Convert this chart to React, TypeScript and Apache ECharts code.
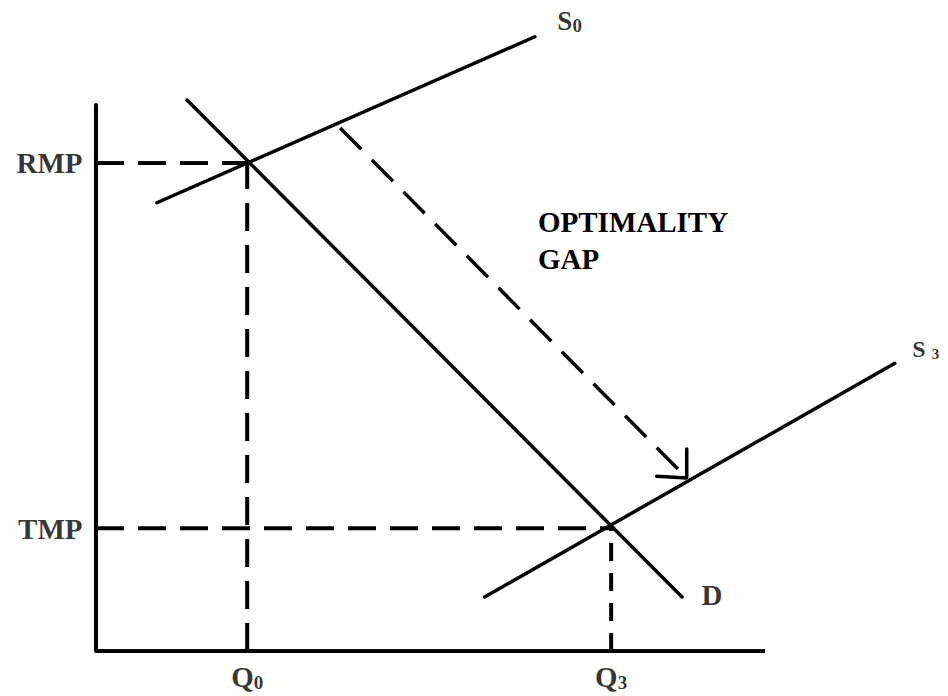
import React, { useEffect, useRef } from "react";
import * as echarts from "echarts";

// Values, in axis units (x: 0-100 quantity, y: 0-100 price)
const RMP = 89.4;
const TMP = 22.5;
const Q0 = 22.6;
const Q3 = 77.0;
const supplyS0: number[][] = [[9.1, 82.1], [65.6, 112.5]];
const demandD: number[][] = [[13.6, 100.9], [87.6, 9.9]];
const supplyS3: number[][] = [[58.1, 9.9], [119.4, 52.7]];
const gapArrow: number[][] = [[36.5, 95.8], [88.3, 31.7]];
const arrowHead: number[][] = [[83.8, 32.0], [88.3, 31.7], [88.3, 37.0]];
const quantityAxis: number[][] = [[0, 0], [100, 0]];
const priceLabels = ["RMP", "TMP"];
const quantityLabels = ["0", "3"];
const annotation = "OPTIMALITY\nGAP";

const FONT = "'Liberation Serif', 'Times New Roman', serif";

export default function App() {
  const ref = useRef<HTMLDivElement>(null);
  useEffect(() => {
    if (!ref.current) return;
    const chart = echarts.init(ref.current, undefined, { renderer: "svg" });
    const solid = (w: number) => ({ color: "#000", width: w, type: "solid" as const, cap: "round" as const });
    const dashed = (w: number, d: number[]) => ({ color: "#000", width: w, type: d, cap: "butt" as const });
    const lineBase = {
      type: "line",
      symbol: "none",
      clip: false,
      silent: true,
      z: 3,
    };
    const bigText = { fontFamily: FONT, fontWeight: "bold" as const, color: "#000" };
    const rich = {
      m: { ...bigText, fontSize: 29, lineHeight: 30, verticalAlign: "bottom" as const },
      s: { ...bigText, fontSize: 19, lineHeight: 14, verticalAlign: "bottom" as const },
      sm: { ...bigText, fontSize: 27, lineHeight: 28, verticalAlign: "bottom" as const },
      ss: { ...bigText, fontSize: 19, lineHeight: 13, verticalAlign: "bottom" as const },
      s3m: { ...bigText, fontSize: 24, lineHeight: 24, verticalAlign: "bottom" as const },
      s3s: { ...bigText, fontSize: 15, lineHeight: 14, verticalAlign: "bottom" as const },
    };
    const labelPoint = (value: number[], label: any) => ({
      value,
      label: { show: true, color: "#000", rich, ...label },
    });
    chart.setOption({
      animation: false,
      backgroundColor: "#fff",
      // x: 0..125 units, 100 units reach the end of the drawn quantity axis
      grid: { left: 96, top: 105, width: 836.25, height: 546, outerBoundsMode: "none", containLabel: false },
      xAxis: {
        type: "value",
        min: 0,
        max: 125,
        axisLine: { show: false },
        axisTick: { show: false },
        axisLabel: { show: false },
        splitLine: { show: false },
      },
      yAxis: {
        type: "value",
        min: 0,
        max: 100,
        axisLine: { show: true, lineStyle: { color: "#000", width: 4 } },
        axisTick: { show: false },
        axisLabel: { show: false },
        splitLine: { show: false },
      },
      graphic: [
        {
          type: "text",
          left: 538,
          top: 203,
          style: {
            text: annotation,
            font: `bold 29px ${FONT}`,
            fill: "#000",
            lineHeight: 37,
          },
        },
      ],
      series: [
        { ...lineBase, name: "quantity axis", data: quantityAxis, lineStyle: { color: "#000", width: 4, cap: "butt" } },
        { ...lineBase, name: "RMP level", data: [[0, RMP], [Q0, RMP]], lineStyle: dashed(4, [28, 14]) },
        { ...lineBase, name: "Q0 level", data: [[Q0, 0], [Q0, RMP]], lineStyle: dashed(4, [28, 14]) },
        { ...lineBase, name: "TMP level", data: [[0, TMP], [Q3, TMP]], lineStyle: dashed(4, [28, 14]) },
        { ...lineBase, name: "Q3 level", data: [[Q3, 0], [Q3, TMP]], lineStyle: dashed(4, [18, 12]) },
        { ...lineBase, name: "S0", data: supplyS0, lineStyle: solid(3.5) },
        { ...lineBase, name: "D", data: demandD, lineStyle: solid(3.5) },
        { ...lineBase, name: "S3", data: supplyS3, lineStyle: solid(3.5) },
        { ...lineBase, name: "gap", data: gapArrow, lineStyle: dashed(3.5, [30, 15]) },
        { ...lineBase, name: "arrowhead", data: arrowHead, lineStyle: solid(3.5) },
        {
          type: "scatter",
          name: "labels",
          silent: true,
          clip: false,
          symbolSize: 1,
          itemStyle: { color: "rgba(0,0,0,0)" },
          z: 5,
          data: [
            labelPoint([0, RMP], { formatter: `{m|${priceLabels[0]}}`, position: "left", distance: 13 }),
            labelPoint([0, TMP], { formatter: `{m|${priceLabels[1]}}`, position: "left", distance: 13 }),
            labelPoint([Q0, 0], { formatter: `{m|Q}{s|${quantityLabels[0]}}`, position: "bottom", distance: 10 }),
            labelPoint([Q3, 0], { formatter: `{m|Q}{s|${quantityLabels[1]}}`, position: "bottom", distance: 10 }),
            labelPoint(supplyS0[1], { formatter: "{sm|S}{ss|0}", position: "right", distance: 22, offset: [0, -16] }),
            labelPoint(demandD[1], { formatter: "{m|D}", position: "right", distance: 19, offset: [0, -2] }),
            labelPoint(supplyS3[1], { formatter: "{s3m|S }{s3s|3}", position: "right", distance: 17, offset: [0, -14] }),
          ],
        },
      ],
    });
    return () => chart.dispose();
  }, []);
  return (
    <div
      ref={ref}
      style={{ position: "absolute", left: 0, top: 0, width: 948, height: 696, background: "#fff" }}
    />
  );
}
